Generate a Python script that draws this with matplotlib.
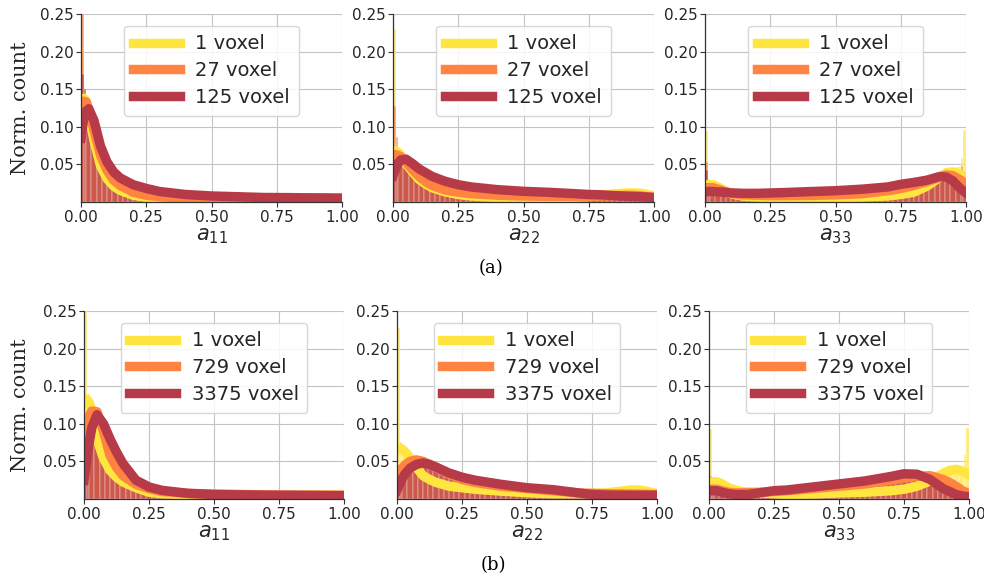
import numpy as np
import matplotlib
matplotlib.use("Agg")
import matplotlib.pyplot as plt

# histogram bin edges (fine bins at both ends)
edges = [0.0, 0.01, 0.02] + [round(0.04 + 0.02 * i, 2) for i in range(48)] + [0.99, 1.0]

# x positions at which the smoothed curves were read
kde_x = [0, 0.01, 0.02, 0.03, 0.05, 0.075, 0.1, 0.125, 0.15, 0.2, 0.25, 0.3,
         0.4, 0.5, 0.6, 0.7, 0.75, 0.8, 0.85, 0.9, 0.925, 0.95, 0.975, 1.0]

labels_a = ["1 voxel", "27 voxel", "125 voxel"]
labels_b = ["1 voxel", "729 voxel", "3375 voxel"]
xlabels = [r"$a_{11}$", r"$a_{22}$", r"$a_{33}$"]
colors = ["#ffe53f", "#ff8442", "#b73a48"]

# ---- (a) a11 ----
hist_a11_1 = [0.200, 0.140, 0.120, 0.085, 0.055, 0.038, 0.028, 0.021, 0.016, 0.012, 0.009, 0.0075, 0.0065,
              0.0055, 0.005, 0.0045, 0.004, 0.004, 0.0035, 0.0035, 0.0035, 0.003, 0.003, 0.003, 0.003, 0.003,
              0.003, 0.003, 0.003, 0.003, 0.003, 0.003, 0.003, 0.003, 0.003, 0.003, 0.003, 0.0032, 0.0032,
              0.0033, 0.0033, 0.0034, 0.0034, 0.0035, 0.0035, 0.0036, 0.0036, 0.0037, 0.0037, 0.0038, 0.004, 0.004]
hist_a11_27 = [0.270, 0.140, 0.125, 0.095, 0.068, 0.048, 0.036, 0.028, 0.022, 0.017, 0.013, 0.011, 0.009,
               0.008, 0.007, 0.0065, 0.006, 0.006, 0.0055, 0.0055, 0.0052, 0.005, 0.005, 0.005, 0.005, 0.005,
               0.005, 0.0048, 0.0048, 0.0048, 0.0047, 0.0047, 0.0046, 0.0046, 0.0046, 0.0045, 0.0045, 0.0045, 0.0045,
               0.0045, 0.0045, 0.0045, 0.0045, 0.0045, 0.0045, 0.0045, 0.0045, 0.0045, 0.0045, 0.0045, 0.0045, 0.0045]
hist_a11_125 = [0.170, 0.150, 0.125, 0.105, 0.080, 0.060, 0.047, 0.038, 0.031, 0.026, 0.022, 0.019, 0.017,
                0.015, 0.013, 0.012, 0.011, 0.0105, 0.010, 0.0095, 0.009, 0.0085, 0.008, 0.008, 0.0075, 0.0075,
                0.007, 0.007, 0.007, 0.0068, 0.0066, 0.0065, 0.0064, 0.0062, 0.006, 0.006, 0.006, 0.006, 0.006,
                0.0058, 0.0058, 0.0057, 0.0057, 0.0056, 0.0056, 0.0055, 0.0055, 0.0055, 0.0054, 0.0054, 0.0053, 0.0053]
kde_a11_1 = [0.130, 0.138, 0.134, 0.115, 0.082, 0.048, 0.031, 0.021, 0.0155, 0.009, 0.006, 0.0045,
             0.0035, 0.003, 0.003, 0.003, 0.0031, 0.0032, 0.0034, 0.0036, 0.0037, 0.0038, 0.0039, 0.004]
kde_a11_27 = [0.128, 0.134, 0.133, 0.123, 0.095, 0.062, 0.042, 0.029, 0.022, 0.013, 0.009, 0.007,
              0.0055, 0.005, 0.0047, 0.0046, 0.0045, 0.0045, 0.0045, 0.0045, 0.0045, 0.0045, 0.0045, 0.0045]
kde_a11_125 = [0.085, 0.110, 0.121, 0.124, 0.108, 0.074, 0.053, 0.040, 0.032, 0.023, 0.018, 0.014,
               0.010, 0.008, 0.007, 0.006, 0.0059, 0.0058, 0.0056, 0.0055, 0.0055, 0.0054, 0.0053, 0.0053]

# ---- (a) a22 ----
hist_a22_1 = [0.230, 0.070, 0.062, 0.050, 0.038, 0.030, 0.025, 0.021, 0.018, 0.016, 0.014, 0.012, 0.011,
              0.010, 0.009, 0.0085, 0.008, 0.0075, 0.007, 0.0065, 0.006, 0.0058, 0.0056, 0.0055, 0.0054, 0.0053,
              0.0052, 0.0052, 0.0052, 0.0053, 0.0054, 0.0055, 0.0056, 0.0058, 0.006, 0.0062, 0.0065, 0.0068, 0.007,
              0.008, 0.009, 0.010, 0.011, 0.012, 0.013, 0.013, 0.013, 0.012, 0.011, 0.010, 0.009, 0.008]
hist_a22_27 = [0.128, 0.087, 0.060, 0.052, 0.044, 0.037, 0.031, 0.027, 0.023, 0.020, 0.018, 0.016, 0.014,
               0.013, 0.012, 0.011, 0.0105, 0.010, 0.0095, 0.009, 0.0088, 0.0086, 0.0085, 0.0084, 0.0083, 0.0082,
               0.0081, 0.008, 0.008, 0.008, 0.008, 0.008, 0.008, 0.008, 0.008, 0.008, 0.008, 0.008, 0.008,
               0.0082, 0.0084, 0.0086, 0.0088, 0.009, 0.009, 0.009, 0.009, 0.0085, 0.008, 0.0075, 0.007, 0.006]
hist_a22_125 = [0.060, 0.050, 0.055, 0.055, 0.050, 0.046, 0.042, 0.038, 0.034, 0.031, 0.028, 0.026, 0.024,
                0.022, 0.021, 0.020, 0.019, 0.018, 0.017, 0.0165, 0.016, 0.0155, 0.015, 0.0148, 0.0145, 0.0142,
                0.014, 0.0138, 0.0135, 0.0133, 0.013, 0.0128, 0.0125, 0.0122, 0.012, 0.0118, 0.0115, 0.0112, 0.011,
                0.0108, 0.0105, 0.0102, 0.010, 0.0095, 0.009, 0.0085, 0.008, 0.0075, 0.007, 0.0065, 0.0062, 0.006]
kde_a22_1 = [0.066, 0.068, 0.066, 0.062, 0.051, 0.040, 0.030, 0.024, 0.019, 0.0135, 0.010, 0.008,
             0.006, 0.0053, 0.0055, 0.0065, 0.0075, 0.009, 0.011, 0.012, 0.012, 0.0115, 0.010, 0.008]
kde_a22_27 = [0.062, 0.063, 0.062, 0.060, 0.053, 0.043, 0.034, 0.027, 0.022, 0.016, 0.013, 0.011,
              0.009, 0.008, 0.0075, 0.0075, 0.0078, 0.008, 0.0085, 0.009, 0.0088, 0.008, 0.007, 0.006]
kde_a22_125 = [0.035, 0.045, 0.052, 0.056, 0.057, 0.051, 0.044, 0.039, 0.034, 0.0275, 0.023, 0.020,
               0.0164, 0.0142, 0.0128, 0.011, 0.010, 0.0095, 0.0085, 0.0075, 0.0072, 0.007, 0.0065, 0.006]

# ---- (a) a33 ----
hist_a33_1 = [0.094, 0.030, 0.022, 0.016, 0.011, 0.008, 0.007, 0.006, 0.0055, 0.0052, 0.005, 0.005, 0.005,
              0.005, 0.005, 0.005, 0.005, 0.005, 0.005, 0.005, 0.0052, 0.0054, 0.0055, 0.0056, 0.0057, 0.0058,
              0.0058, 0.006, 0.006, 0.0062, 0.0064, 0.0066, 0.0068, 0.007, 0.0075, 0.008, 0.0085, 0.009, 0.010,
              0.011, 0.012, 0.014, 0.016, 0.019, 0.023, 0.028, 0.034, 0.040, 0.045, 0.047, 0.058, 0.096]
hist_a33_27 = [0.053, 0.025, 0.018, 0.014, 0.011, 0.009, 0.0085, 0.0082, 0.008, 0.008, 0.008, 0.008, 0.008,
               0.008, 0.008, 0.008, 0.008, 0.008, 0.0082, 0.0084, 0.0086, 0.0088, 0.009, 0.009, 0.0092, 0.0095,
               0.0098, 0.010, 0.0105, 0.011, 0.0115, 0.012, 0.0125, 0.013, 0.014, 0.015, 0.016, 0.017, 0.018,
               0.019, 0.021, 0.023, 0.025, 0.027, 0.029, 0.031, 0.034, 0.036, 0.038, 0.036, 0.048, 0.035]
hist_a33_125 = [0.042, 0.018, 0.014, 0.012, 0.011, 0.011, 0.011, 0.011, 0.011, 0.011, 0.011, 0.011, 0.0112,
                0.0114, 0.0116, 0.0118, 0.012, 0.0122, 0.0124, 0.0126, 0.0128, 0.013, 0.0132, 0.0134, 0.0136, 0.0138,
                0.014, 0.0142, 0.0145, 0.0148, 0.015, 0.0155, 0.016, 0.0165, 0.017, 0.018, 0.019, 0.020, 0.021,
                0.023, 0.024, 0.025, 0.027, 0.028, 0.030, 0.032, 0.034, 0.035, 0.033, 0.027, 0.020, 0.016]
kde_a33_1 = [0.022, 0.023, 0.023, 0.023, 0.020, 0.015, 0.011, 0.009, 0.0075, 0.0065, 0.006, 0.0058,
             0.0056, 0.0058, 0.0065, 0.008, 0.010, 0.013, 0.021, 0.033, 0.039, 0.040, 0.037, 0.033]
kde_a33_27 = [0.017, 0.019, 0.019, 0.019, 0.017, 0.014, 0.012, 0.010, 0.0095, 0.009, 0.0085, 0.0085,
              0.0088, 0.0095, 0.011, 0.015, 0.018, 0.022, 0.027, 0.033, 0.036, 0.035, 0.030, 0.024]
kde_a33_125 = [0.013, 0.014, 0.014, 0.014, 0.0135, 0.013, 0.012, 0.0118, 0.0115, 0.0115, 0.012, 0.0125,
               0.0138, 0.015, 0.017, 0.020, 0.0235, 0.026, 0.029, 0.034, 0.033, 0.028, 0.019, 0.012]

# ---- (b) a11 ----
hist_b11_1 = [0.270, 0.140, 0.115, 0.080, 0.055, 0.040, 0.031, 0.024, 0.019, 0.016, 0.013, 0.011, 0.0095,
              0.0085, 0.0075, 0.007, 0.0065, 0.006, 0.006, 0.0058, 0.0056, 0.0055, 0.0054, 0.0053, 0.0052, 0.0051,
              0.005, 0.005, 0.005, 0.005, 0.005, 0.005, 0.005, 0.005, 0.005, 0.005, 0.005, 0.005, 0.005,
              0.005, 0.005, 0.005, 0.005, 0.005, 0.005, 0.005, 0.005, 0.005, 0.005, 0.005, 0.005, 0.005]
hist_b11_729 = [0.070, 0.100, 0.118, 0.115, 0.095, 0.072, 0.055, 0.042, 0.032, 0.026, 0.021, 0.017, 0.014,
                0.012, 0.011, 0.010, 0.009, 0.0085, 0.008, 0.0075, 0.007, 0.0068, 0.0066, 0.0065, 0.0064, 0.0063,
                0.0062, 0.0061, 0.006, 0.006, 0.0058, 0.0057, 0.0056, 0.0055, 0.0055, 0.0054, 0.0053, 0.0052, 0.0052,
                0.0052, 0.0051, 0.0051, 0.005, 0.005, 0.005, 0.005, 0.005, 0.005, 0.005, 0.005, 0.005, 0.005]
hist_b11_3375 = [0.030, 0.055, 0.090, 0.112, 0.100, 0.084, 0.068, 0.054, 0.043, 0.034, 0.027, 0.021, 0.017,
                 0.015, 0.013, 0.011, 0.0095, 0.0085, 0.008, 0.0075, 0.007, 0.0065, 0.0062, 0.006, 0.0058, 0.0056,
                 0.0055, 0.0054, 0.0053, 0.0052, 0.0051, 0.005, 0.005, 0.005, 0.005, 0.005, 0.005, 0.005, 0.005,
                 0.005, 0.005, 0.005, 0.005, 0.005, 0.0048, 0.0048, 0.0047, 0.0047, 0.0046, 0.0046, 0.0045, 0.0045]
kde_b11_1 = [0.130, 0.133, 0.128, 0.118, 0.080, 0.054, 0.038, 0.029, 0.0226, 0.015, 0.009, 0.007,
             0.0055, 0.005, 0.005, 0.005, 0.005, 0.005, 0.005, 0.005, 0.005, 0.005, 0.005, 0.005]
kde_b11_729 = [0.070, 0.095, 0.110, 0.117, 0.116, 0.090, 0.058, 0.042, 0.031, 0.0195, 0.0137, 0.010,
               0.0075, 0.0065, 0.006, 0.0055, 0.0052, 0.005, 0.005, 0.005, 0.005, 0.005, 0.005, 0.005]
kde_b11_3375 = [0.025, 0.050, 0.075, 0.095, 0.112, 0.100, 0.080, 0.0625, 0.047, 0.025, 0.016, 0.0115,
                0.0075, 0.006, 0.0055, 0.005, 0.005, 0.005, 0.0048, 0.0047, 0.0046, 0.0046, 0.0045, 0.0045]

# ---- (b) a22 ----
hist_b22_1 = [0.228, 0.076, 0.066, 0.055, 0.044, 0.036, 0.030, 0.026, 0.023, 0.020, 0.018, 0.0165, 0.0155,
              0.0145, 0.0135, 0.0125, 0.012, 0.0115, 0.011, 0.0105, 0.010, 0.0095, 0.009, 0.0088, 0.0085, 0.0083,
              0.008, 0.0078, 0.0076, 0.0074, 0.0072, 0.007, 0.007, 0.007, 0.007, 0.007, 0.007, 0.0072, 0.0075,
              0.0078, 0.008, 0.0085, 0.009, 0.0095, 0.0105, 0.011, 0.012, 0.012, 0.0115, 0.011, 0.0095, 0.008]
hist_b22_729 = [0.035, 0.040, 0.046, 0.051, 0.052, 0.051, 0.049, 0.046, 0.043, 0.039, 0.035, 0.032, 0.029,
                0.027, 0.025, 0.023, 0.022, 0.021, 0.020, 0.019, 0.018, 0.0175, 0.017, 0.016, 0.0155, 0.015,
                0.0145, 0.014, 0.0135, 0.013, 0.012, 0.0115, 0.011, 0.0105, 0.010, 0.0095, 0.009, 0.0085, 0.008,
                0.0078, 0.0075, 0.0072, 0.007, 0.007, 0.0068, 0.0066, 0.0065, 0.0064, 0.0063, 0.0062, 0.0061, 0.006]
hist_b22_3375 = [0.012, 0.020, 0.030, 0.038, 0.044, 0.047, 0.048, 0.046, 0.043, 0.040, 0.036, 0.033, 0.030,
                 0.029, 0.027, 0.025, 0.024, 0.023, 0.022, 0.021, 0.020, 0.0195, 0.019, 0.018, 0.017, 0.016,
                 0.0155, 0.015, 0.0145, 0.014, 0.013, 0.012, 0.0115, 0.011, 0.010, 0.009, 0.008, 0.007, 0.0065,
                 0.006, 0.0055, 0.0053, 0.0052, 0.005, 0.005, 0.005, 0.005, 0.005, 0.005, 0.005, 0.005, 0.005]
kde_b22_1 = [0.065, 0.068, 0.066, 0.063, 0.055, 0.042, 0.031, 0.026, 0.022, 0.017, 0.015, 0.013,
             0.0105, 0.0084, 0.007, 0.007, 0.0075, 0.008, 0.010, 0.012, 0.012, 0.011, 0.009, 0.007]
kde_b22_729 = [0.030, 0.036, 0.041, 0.045, 0.050, 0.052, 0.050, 0.046, 0.042, 0.033, 0.026, 0.022,
               0.017, 0.014, 0.011, 0.008, 0.0075, 0.007, 0.0068, 0.0065, 0.0064, 0.0062, 0.006, 0.006]
kde_b22_3375 = [0.012, 0.020, 0.027, 0.033, 0.041, 0.046, 0.048, 0.046, 0.0425, 0.0346, 0.029, 0.025,
                0.0195, 0.015, 0.0124, 0.008, 0.006, 0.0053, 0.005, 0.005, 0.005, 0.005, 0.005, 0.005]

# ---- (b) a33 ----
hist_b33_1 = [0.093, 0.025, 0.021, 0.016, 0.012, 0.010, 0.009, 0.0085, 0.008, 0.0075, 0.0072, 0.007, 0.007,
              0.0068, 0.0066, 0.0065, 0.0065, 0.0066, 0.0068, 0.007, 0.0072, 0.0074, 0.0076, 0.0078, 0.008, 0.0082,
              0.0084, 0.0086, 0.0088, 0.009, 0.0092, 0.0094, 0.0096, 0.0098, 0.010, 0.0105, 0.011, 0.012, 0.013,
              0.014, 0.016, 0.018, 0.020, 0.023, 0.027, 0.031, 0.035, 0.038, 0.040, 0.040, 0.058, 0.095]
hist_b33_729 = [0.031, 0.014, 0.013, 0.011, 0.009, 0.008, 0.0078, 0.0078, 0.008, 0.0085, 0.009, 0.0095, 0.010,
                0.0105, 0.011, 0.0115, 0.012, 0.0125, 0.013, 0.0135, 0.014, 0.0145, 0.015, 0.0155, 0.016, 0.0165,
                0.017, 0.0175, 0.018, 0.0185, 0.019, 0.0195, 0.020, 0.021, 0.022, 0.023, 0.024, 0.026, 0.027,
                0.028, 0.029, 0.030, 0.030, 0.031, 0.030, 0.028, 0.025, 0.021, 0.017, 0.013, 0.009, 0.007]
hist_b33_3375 = [0.015, 0.011, 0.011, 0.010, 0.008, 0.0065, 0.006, 0.006, 0.006, 0.0065, 0.007, 0.008, 0.009,
                 0.010, 0.011, 0.0115, 0.012, 0.0125, 0.013, 0.014, 0.015, 0.016, 0.017, 0.018, 0.019, 0.020,
                 0.021, 0.022, 0.023, 0.024, 0.025, 0.026, 0.027, 0.028, 0.030, 0.031, 0.032, 0.033, 0.034,
                 0.034, 0.033, 0.031, 0.028, 0.025, 0.021, 0.017, 0.013, 0.010, 0.007, 0.005, 0.004, 0.003]
kde_b33_1 = [0.022, 0.023, 0.023, 0.023, 0.020, 0.015, 0.012, 0.010, 0.009, 0.008, 0.007, 0.006,
             0.0065, 0.008, 0.009, 0.011, 0.013, 0.017, 0.024, 0.034, 0.038, 0.0395, 0.037, 0.032]
kde_b33_729 = [0.012, 0.013, 0.013, 0.013, 0.011, 0.009, 0.008, 0.0082, 0.0085, 0.009, 0.010, 0.011,
               0.014, 0.017, 0.020, 0.025, 0.028, 0.030, 0.031, 0.026, 0.022, 0.017, 0.011, 0.007]
kde_b33_3375 = [0.011, 0.011, 0.011, 0.011, 0.009, 0.007, 0.006, 0.006, 0.006, 0.0085, 0.011, 0.012,
                0.016, 0.020, 0.024, 0.030, 0.0335, 0.033, 0.026, 0.014, 0.010, 0.006, 0.004, 0.003]

rows = [
    dict(labels=labels_a,
         hists=[[hist_a11_1, hist_a11_27, hist_a11_125],
                [hist_a22_1, hist_a22_27, hist_a22_125],
                [hist_a33_1, hist_a33_27, hist_a33_125]],
         kdes=[[kde_a11_1, kde_a11_27, kde_a11_125],
               [kde_a22_1, kde_a22_27, kde_a22_125],
               [kde_a33_1, kde_a33_27, kde_a33_125]],
         lefts=[81, 393, 705], bottom=202, top=14, width=261),
    dict(labels=labels_b,
         hists=[[hist_b11_1, hist_b11_729, hist_b11_3375],
                [hist_b22_1, hist_b22_729, hist_b22_3375],
                [hist_b33_1, hist_b33_729, hist_b33_3375]],
         kdes=[[kde_b11_1, kde_b11_729, kde_b11_3375],
               [kde_b22_1, kde_b22_729, kde_b22_3375],
               [kde_b33_1, kde_b33_729, kde_b33_3375]],
         lefts=[84, 397, 709], bottom=499, top=311, width=260),
]

W, H = 984, 579
fig = plt.figure(figsize=(W / 100, H / 100), dpi=100)

edges = np.array(edges)
widths = np.diff(edges)

for r, row in enumerate(rows):
    for p in range(3):
        left = row["lefts"][p]
        ax = fig.add_axes([left / W, 1 - row["bottom"] / H,
                           row["width"] / W, (row["bottom"] - row["top"]) / H])
        ax.set_axisbelow(True)
        ax.grid(True, color="#c4c4c4", linewidth=0.8)
        for k in range(3):
            ax.bar(edges[:-1], row["hists"][p][k], width=widths, align="edge",
                   color=colors[k], alpha=0.7, edgecolor=(1, 1, 1, 0.5), linewidth=0.3)
        for k in range(3):
            ax.plot(kde_x, row["kdes"][p][k], color=colors[k], lw=6.8,
                    solid_joinstyle="round", label=row["labels"][k])
        ax.set_xlim(0, 1)
        ax.set_ylim(0, 0.25)
        ax.set_xticks([0, 0.25, 0.5, 0.75, 1.0])
        ax.set_xticklabels(["0.00", "0.25", "0.50", "0.75", "1.00"])
        ax.set_yticks([0.05, 0.10, 0.15, 0.20, 0.25])
        ax.set_yticklabels(["0.05", "0.10", "0.15", "0.20", "0.25"])
        ax.tick_params(labelsize=11, length=3.5, width=0.8, color="#333333",
                       labelcolor="#262626", pad=2)
        for s in ["top", "right"]:
            ax.spines[s].set_visible(False)
        for s in ["left", "bottom"]:
            ax.spines[s].set_color("#333333")
            ax.spines[s].set_linewidth(0.9)
        ax.set_xlabel(xlabels[p], fontsize=15, color="#262626", labelpad=1)
        leg = ax.legend(loc="upper center", fontsize=14, handlelength=2.4,
                        labelspacing=0.4, borderpad=0.45, framealpha=0.85,
                        edgecolor="#d0d0d0", bbox_to_anchor=(0.5, 0.99))
        for t in leg.get_texts():
            t.set_color("#262626")
        if p == 0:
            yc = (row["bottom"] + row["top"]) / 2
            fig.text(21 / W, 1 - yc / H, "Norm. count", rotation=90, ha="center",
                     va="center", fontsize=15, family="DejaVu Serif", color="#262626")

fig.text(491 / W, 1 - 268 / H, "(a)", ha="center", va="center", fontsize=13,
         family="DejaVu Serif")
fig.text(493 / W, 1 - 565 / H, "(b)", ha="center", va="center", fontsize=13,
         family="DejaVu Serif")

fig.savefig("out.png", dpi=100)
